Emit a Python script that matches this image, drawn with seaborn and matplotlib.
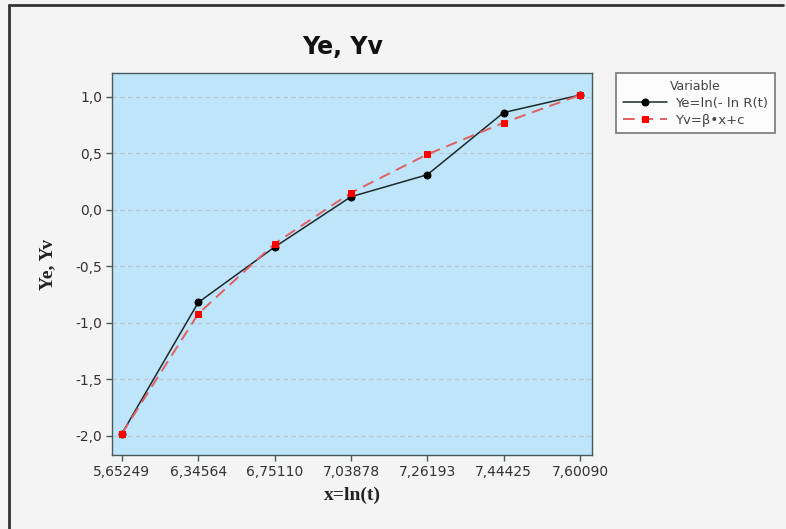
import pandas as pd
import numpy as np
import seaborn as sns
import matplotlib.pyplot as plt
from matplotlib.lines import Line2D
from matplotlib.ticker import FuncFormatter

# x = ln(t), values shown on the axis
x_labels = ["5,65249", "6,34564", "6,75110", "7,03878", "7,26193", "7,44425", "7,60090"]
# Ye = ln(-ln R(t))
ye = [-1.98, -0.82, -0.33, 0.115, 0.31, 0.86, 1.015]
# Yv = beta*x + c (fitted)
yv = [-1.98, -0.92, -0.30, 0.15, 0.49, 0.77, 1.015]

df = pd.DataFrame({"x": x_labels, "Ye": ye, "Yv": yv})

sns.set_style("white")
plt.rcParams["font.family"] = ["DejaVu Sans"]

fig = plt.figure(figsize=(7.86, 5.29), dpi=100, facecolor="#f4f4f4")
ax = fig.add_axes([112/786, 74/529, 480/786, 382/529])
ax.set_facecolor("#bfe5fb")

sns.lineplot(data=df, x="x", y="Ye", ax=ax, color="#1c2a2a", linewidth=1.1,
             marker="o", markersize=5, markerfacecolor="black", markeredgecolor="black",
             label="Ye=ln(- ln R(t)", sort=False)
sns.lineplot(data=df, x="x", y="Yv", ax=ax, color="#e06060", linewidth=1.4,
             dashes=False, linestyle=(0, (6, 3.5)), marker="s", markersize=5,
             markerfacecolor="#ff0000", markeredgecolor="#ff0000",
             label="Yv=β•x+c", sort=False)

ax.set_xlim(-0.13, 6.157)
ax.set_ylim(-2.17, 1.21)
ax.set_yticks([-2.0, -1.5, -1.0, -0.5, 0.0, 0.5, 1.0])
ax.yaxis.set_major_formatter(FuncFormatter(lambda v, p: f"{v:.1f}".replace(".", ",")))
ax.grid(axis="y", color="#b8c4cc", linestyle=(0, (4, 3)), linewidth=0.8)
ax.grid(axis="x", visible=False)

for s in ax.spines.values():
    s.set_color("#4a5a5a")
    s.set_linewidth(1.0)
ax.tick_params(axis="both", direction="out", length=4, width=1, color="#4a5a5a",
               labelsize=10, labelcolor="#333333", pad=3, left=True, bottom=True)

ax.set_title("Ye, Yv", fontsize=17, fontweight="bold", pad=14, color="#111111", x=0.48)
ax.set_xlabel("x=ln(t)", family=["Liberation Serif"], fontweight="bold", fontsize=14,
              color="#222222", labelpad=6)
ax.set_ylabel("Ye, Yv", family=["Liberation Serif"], fontweight="bold", fontsize=14,
              color="#222222", labelpad=14)

ax.get_legend().remove()
h, l = ax.get_legend_handles_labels()
leg = fig.legend(h, l, title="Variable", loc="upper left",
                 bbox_to_anchor=(616/786, 1 - 73/529), fontsize=9.5, title_fontsize=9,
                 frameon=True, fancybox=False, handlelength=3.4, borderpad=0.5,
                 labelspacing=0.3, handletextpad=0.6, borderaxespad=0)
leg.get_frame().set_edgecolor("#555555")
leg.get_frame().set_linewidth(1.2)
leg.get_frame().set_facecolor("white")
for t in leg.get_texts():
    t.set_color("#444444")
leg.get_title().set_color("#444444")

# outer frame lines at top and left of the picture
fig.add_artist(Line2D([9/786, 783/786], [1 - 5/529, 1 - 5/529], color="#333333", linewidth=2))
fig.add_artist(Line2D([9/786, 9/786], [1 - 5/529, 0], color="#333333", linewidth=2))

fig.savefig("out.png", dpi=100, facecolor=fig.get_facecolor())
